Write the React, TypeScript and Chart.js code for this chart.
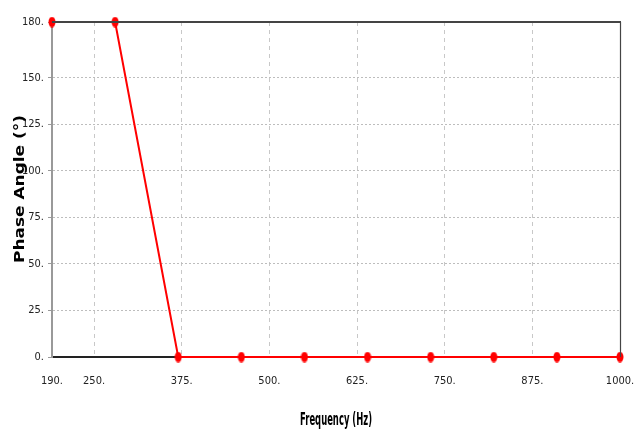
import React, { useEffect, useRef } from "react";
import { Chart, registerables } from "chart.js";

Chart.register(...registerables);

const frequencies = [190, 280, 370, 460, 550, 640, 730, 820, 910, 1000];
const phaseAngles = [180, 180, 0, 0, 0, 0, 0, 0, 0, 0];
const xTickValues = [190, 250, 375, 500, 625, 750, 875, 1000];
const yTickValues = [0, 25, 50, 75, 100, 125, 150, 180];
const xTitle = "Frequency (Hz)";
const yTitle = "Phase Angle (°)";

const narrow = '"DejaVu Sans Condensed", "Liberation Sans Narrow", "Liberation Sans", sans-serif';

function makeMarker(): HTMLCanvasElement {
  const c = document.createElement("canvas");
  c.width = 8;
  c.height = 11;
  const ctx = c.getContext("2d")!;
  ctx.fillStyle = "#ff0000";
  ctx.beginPath();
  ctx.ellipse(4, 5.5, 3.5, 5.2, 0, 0, Math.PI * 2);
  ctx.fill();
  return c;
}

function drawFitted(ctx: CanvasRenderingContext2D, text: string, font: string, cx: number, cy: number, length: number, angle: number) {
  ctx.save();
  ctx.font = font;
  const w = ctx.measureText(text).width;
  ctx.translate(cx, cy);
  ctx.rotate(angle);
  ctx.scale(length / w, 1);
  ctx.fillStyle = "#000000";
  ctx.textAlign = "center";
  ctx.textBaseline = "middle";
  ctx.fillText(text, 0, 0);
  ctx.restore();
}

const frame = {
  id: "frame",
  afterDatasetsDraw(chart: any) {
    const { ctx, chartArea } = chart;
    ctx.save();
    ctx.strokeStyle = "#444444";
    ctx.lineWidth = 2;
    ctx.beginPath();
    ctx.moveTo(chartArea.left, chartArea.top);
    ctx.lineTo(chartArea.right + 1, chartArea.top);
    ctx.stroke();
    ctx.lineWidth = 1.2;
    ctx.beginPath();
    ctx.moveTo(chartArea.right + 0.5, chartArea.top);
    ctx.lineTo(chartArea.right + 0.5, chartArea.bottom);
    ctx.stroke();
    ctx.restore();
  },
  afterDraw(chart: any) {
    const { ctx, chartArea } = chart;
    drawFitted(ctx, xTitle, 'bold 17px "DejaVu Sans", sans-serif', (chartArea.left + chartArea.right) / 2, 421, 72, 0);
    drawFitted(ctx, yTitle, 'bold 14px "DejaVu Sans", sans-serif', 20, 189, 148, -Math.PI / 2);
  },
};

export default function App() {
  const ref = useRef<HTMLCanvasElement>(null);
  useEffect(() => {
    const marker = makeMarker();
    const chart = new Chart(ref.current!, {
      type: "line",
      data: {
        datasets: [
          {
            data: frequencies.map((f, i) => ({ x: f, y: phaseAngles[i] })),
            borderColor: "#ff0000",
            borderWidth: 2,
            pointStyle: marker as any,
            pointRadius: 5,
            clip: false as any,
            tension: 0,
          },
        ],
      },
      options: {
        animation: false,
        responsive: false,
        events: [],
        layout: { padding: { top: 22, right: 21, left: 0, bottom: 0 } },
        plugins: { legend: { display: false }, tooltip: { enabled: false } },
        scales: {
          x: {
            type: "linear",
            min: 190,
            max: 1000,
            afterBuildTicks: (s: any) => {
              s.ticks = xTickValues.map((v) => ({ value: v }));
            },
            afterFit: (s: any) => {
              s.height = 80;
              s.paddingLeft = 0;
              s.paddingRight = 0;
            },
            grid: {
              color: "#c8c8c8",
              drawTicks: false,
            },
            border: { display: true, color: "#222222", width: 2, dash: [4, 4] },
            ticks: {
              padding: 18,
              maxRotation: 0,
              autoSkip: false,
              color: "#222222",
              font: { family: narrow, size: 11 },
              callback: (v: any) => v + ".",
            },
            title: { display: false },
          },
          y: {
            type: "linear",
            min: 0,
            max: 180,
            afterBuildTicks: (s: any) => {
              s.ticks = yTickValues.map((v) => ({ value: v }));
            },
            afterFit: (s: any) => {
              s.width = 52;
              s.paddingTop = 0;
              s.paddingBottom = 0;
            },
            grid: {
              color: "#bdbdbd",
              tickLength: 4,
              tickColor: "#999999",
            },
            border: { display: true, color: "#999999", width: 2, dash: [2, 2] },
            ticks: {
              padding: 4,
              autoSkip: false,
              color: "#222222",
              font: { family: narrow, size: 11 },
              callback: (v: any) => v + ".",
            },
            title: { display: false },
          },
        },
      },
      plugins: [frame],
    });
    return () => chart.destroy();
  }, []);
  return (
    <div style={{ position: "fixed", left: 0, top: 0, width: 641, height: 437, background: "#fff" }}>
      <canvas ref={ref} width={641} height={437} style={{ width: 641, height: 437 }} />
    </div>
  );
}
